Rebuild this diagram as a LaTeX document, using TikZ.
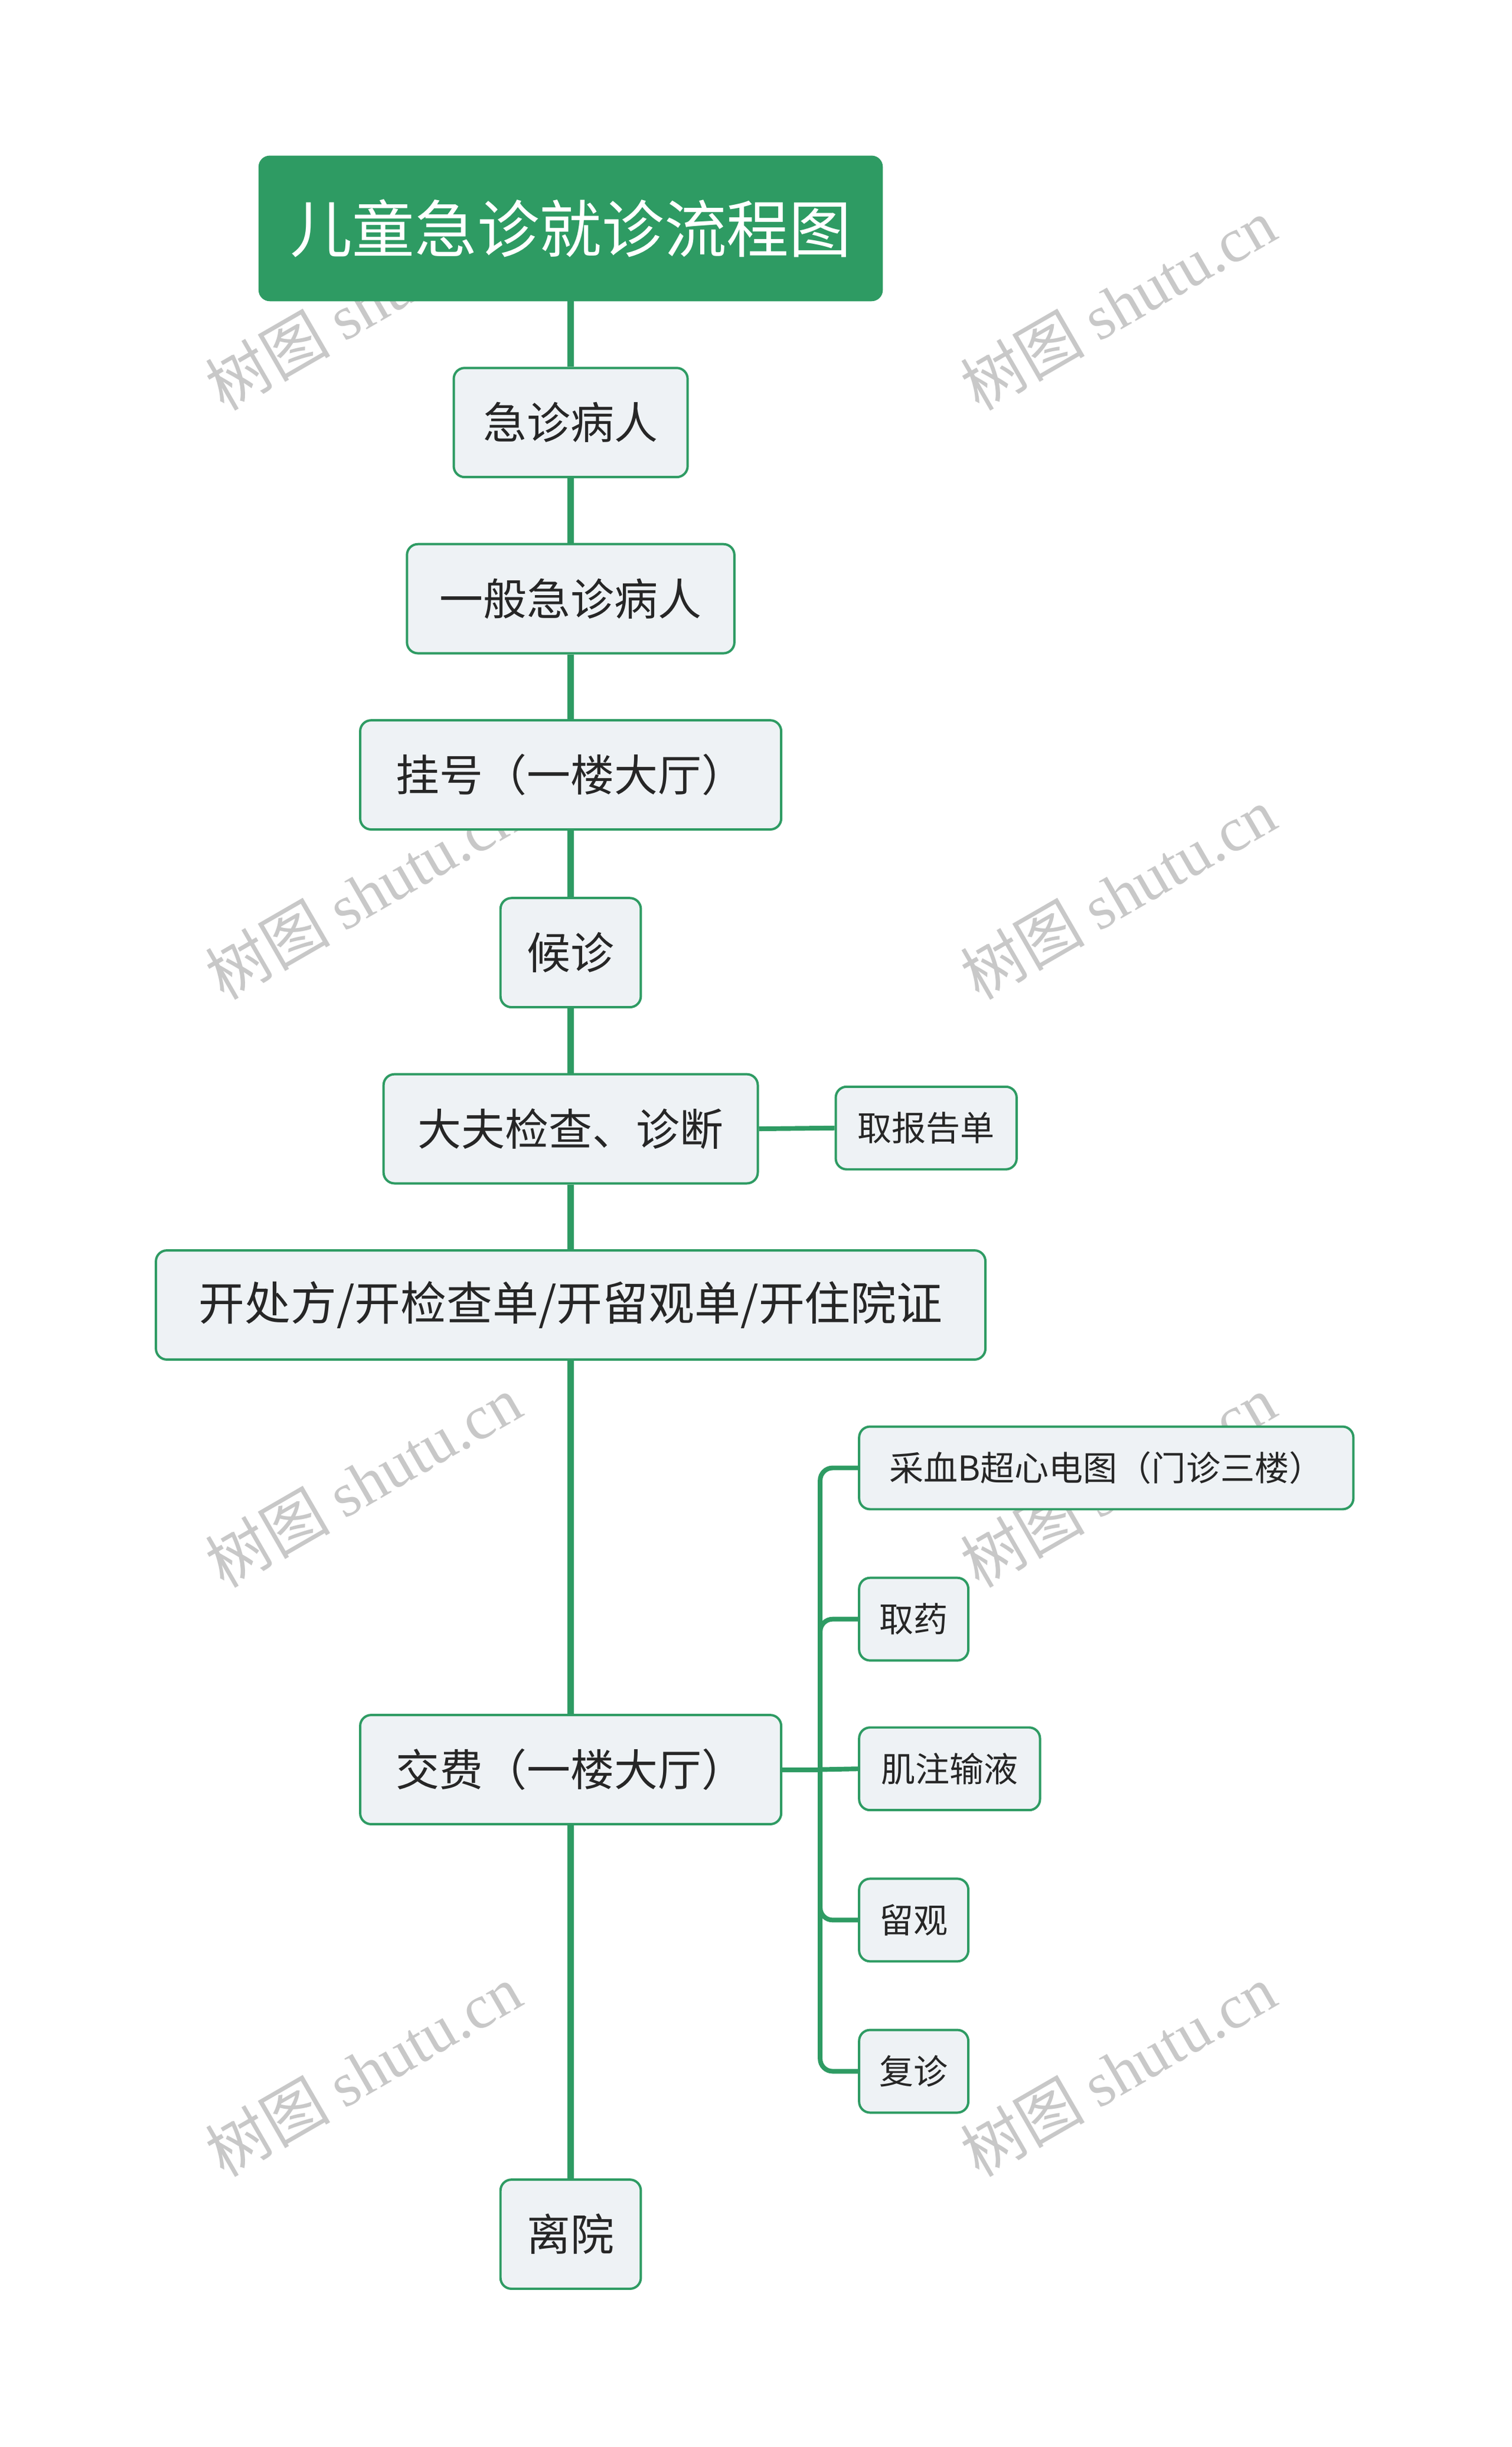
\documentclass[tikz,border=0pt]{standalone}
\usepackage{fontspec}
\setmainfont{Noto Sans CJK SC}
\newfontfamily\wmserif{Liberation Serif}
\definecolor{grn}{HTML}{2E9B63}
\definecolor{boxfill}{HTML}{EEF2F5}
\definecolor{wm}{HTML}{C8C8C8}
\tikzset{
 box/.style={draw=grn,fill=boxfill,line width=1.5pt,rounded corners=7pt,inner sep=0pt,text=black!85},
 big/.style={box,font=\fontsize{28}{30}\selectfont},
 small/.style={box,font=\fontsize{22}{24}\selectfont},
 link/.style={draw=grn,line width=4pt},
 thin/.style={draw=grn,line width=3pt,rounded corners=8pt},
 wmark/.style={text=wm,rotate=30,font=\fontsize{40}{42}\selectfont}
}
\newcommand{\bx}[7]{\node[#1,minimum width=#4pt,minimum height=#5pt] (#2) at (#6pt,-#7pt) {#3};}
\begin{document}
\begin{tikzpicture}[x=1pt,y=1pt]
\useasboundingbox (0,0) rectangle (969.6,-1569.5);
\foreach \x/\y in {233/195,717/195,233/573,717/573,233/950,717/950,233/1328,717/1328}
  \node[wmark] at (\x,-\y) {树图 {\wmserif shutu.cn}};
\node[draw=grn,fill=grn,rounded corners=7pt,minimum width=400pt,minimum height=93pt,text=white,font=\fontsize{40}{42}\selectfont] (t) at (366,-146.5) {儿童急诊就诊流程图};
\bx{big}{a}{急诊病人}{150}{70}{366}{271}
\bx{big}{b}{一般急诊病人}{210}{70}{366}{384}
\bx{big}{c}{挂号（一楼大厅）}{270}{70}{366}{497}
\bx{big}{d}{候诊}{90}{70}{366}{611}
\bx{big}{e}{大夫检查、诊断}{240}{70}{366}{724}
\bx{small}{e1}{取报告单}{116}{53}{594}{723.5}
\bx{big}{f}{\fontsize{29.5}{31}\selectfont 开处方/开检查单/开留观单/开住院证}{532}{70}{366}{837}
\bx{big}{g}{交费（一楼大厅）}{270}{70}{366}{1135}
\bx{big}{h}{离院}{90}{70}{366}{1433}
\bx{small}{g1}{采血B超心电图（门诊三楼）}{317}{53}{709.5}{941.5}
\bx{small}{g2}{取药}{70}{53}{586}{1038.5}
\bx{small}{g3}{肌注输液}{116}{53}{609}{1134.5}
\bx{small}{g4}{留观}{70}{53}{586}{1231.5}
\bx{small}{g5}{复诊}{70}{53}{586}{1328.5}
\draw[link] (t.south) -- (a.north);
\draw[link] (a.south) -- (b.north);
\draw[link] (b.south) -- (c.north);
\draw[link] (c.south) -- (d.north);
\draw[link] (d.south) -- (e.north);
\draw[link] (e.south) -- (f.north);
\draw[link] (f.south) -- (g.north);
\draw[link] (g.south) -- (h.north);
\draw[thin] (e.east) -- (e1.west);
\coordinate (j) at (526,-1135);
\draw[thin] (g.east) -- (j);
\draw[thin] (g1.west) -| (j) |- (g5.west);
\draw[thin] (g2.west) -| (j);
\draw[thin] (g3.west) -- (j);
\draw[thin] (g4.west) -| (j);
\end{tikzpicture}
\end{document}
